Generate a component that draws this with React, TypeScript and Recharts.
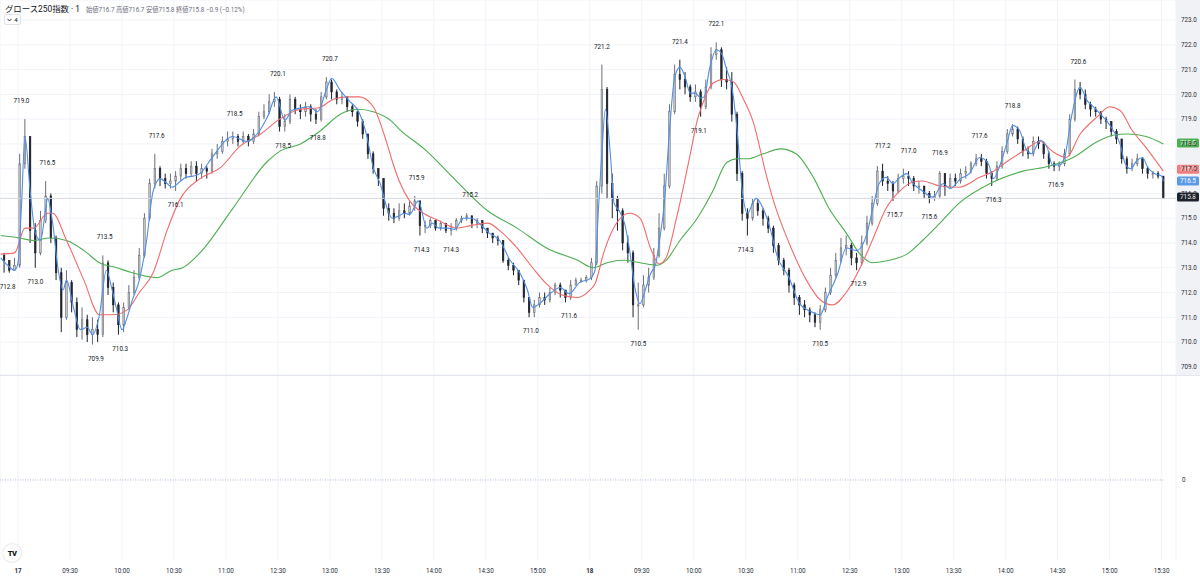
import React from "react";
import {
  ComposedChart,
  Bar,
  Line,
  Scatter,
  XAxis,
  YAxis,
  CartesianGrid,
  ReferenceLine,
} from "recharts";

// time is counted in trading minutes from 17th 09:00 (lunch break removed)
const preStart = -9;
const day1Start = 0;
const day2Start = 330;
const barStep = 3;
const firstOpen = 713.5;

const preClose = [713.3, 712.9, 713.1];
const preHigh = [713.6, 713.3, 713.4];
const preLow = [712.8, 712.8, 712.9];

const day1Close = [
  717.2, 718.3, 714.5, 713.6, 714.9, 715.9, 714.2, 712.8, 711.0, 712.4,
  711.6, 710.5, 710.9, 710.3, 710.5, 710.3, 713.2, 712.2, 711.5, 710.7,
  711.4, 712.0, 712.6, 713.5, 715.0, 716.4, 717.0, 716.6, 716.4, 716.5,
  716.7, 717.0, 716.8, 717.1, 716.8, 717.0, 716.9, 717.6, 717.7, 718.1,
  718.2, 718.3, 718.1, 718.3, 718.1, 718.4, 719.1, 719.3, 719.7, 719.8,
  718.7, 718.9, 719.8, 719.4, 719.3, 719.5, 719.2, 719.0, 719.9, 720.5,
  720.1, 719.8, 719.9, 719.5, 719.3, 718.9, 718.4, 717.6, 717.0, 716.6,
  715.4, 715.2, 715.0, 715.3, 715.2, 715.5, 715.7, 714.7, 714.7, 714.9,
  714.6, 714.8, 714.5, 714.6, 714.9, 715.0, 715.1, 714.8, 714.9, 714.6,
  714.4, 714.2, 714.1, 713.3, 713.1, 712.9, 712.5, 711.8, 711.2, 711.5,
  711.8, 711.7, 712.0, 712.3, 712.1, 711.8, 712.3, 712.5, 712.5, 712.6,
];
const day1High = [
  717.6, 719.0, 718.3, 714.8, 715.3, 716.5, 716.0, 714.3, 713.0, 712.9,
  712.5, 711.8, 711.4, 711.1, 711.0, 710.9, 713.5, 713.3, 712.4, 711.6,
  711.6, 712.3, 712.9, 713.8, 715.2, 716.6, 717.6, 717.1, 716.8, 716.8,
  716.9, 717.2, 717.2, 717.3, 717.3, 717.2, 717.1, 717.8, 718.0, 718.3,
  718.5, 718.5, 718.4, 718.5, 718.4, 718.6, 719.3, 719.6, 720.0, 720.1,
  719.9, 719.2, 720.0, 719.9, 719.6, 719.7, 719.6, 719.4, 720.1, 720.7,
  720.6, 720.2, 720.1, 719.9, 719.6, 719.3, 719.0, 718.4, 717.7, 717.0,
  716.6, 715.6, 715.4, 715.6, 715.6, 715.7, 715.9, 715.7, 714.9, 715.0,
  714.9, 714.9, 714.8, 714.8, 715.0, 715.1, 715.2, 715.1, 715.0, 714.9,
  714.6, 714.4, 714.3, 714.1, 713.4, 713.2, 712.9, 712.5, 711.8, 711.7,
  712.0, 712.0, 712.2, 712.4, 712.4, 712.1, 712.5, 712.6, 712.6, 712.7,
];
const day1Low = [
  713.0, 717.0, 714.0, 713.0, 713.5, 714.8, 714.0, 712.5, 710.4, 710.9,
  711.2, 710.2, 710.1, 710.0, 709.9, 710.0, 710.2, 711.9, 711.2, 710.3,
  710.4, 711.3, 711.9, 712.5, 713.4, 714.9, 716.2, 716.3, 716.2, 716.2,
  716.1, 716.5, 716.6, 716.7, 716.5, 716.6, 716.6, 716.8, 717.4, 717.6,
  717.9, 718.0, 717.9, 718.0, 717.9, 718.0, 718.3, 719.0, 719.2, 719.5,
  718.5, 718.5, 718.8, 719.2, 719.0, 719.1, 718.9, 718.8, 718.9, 719.8,
  719.8, 719.6, 719.6, 719.3, 719.1, 718.7, 718.2, 717.4, 716.8, 716.3,
  715.1, 714.9, 714.8, 714.9, 715.0, 715.1, 715.3, 714.3, 714.4, 714.6,
  714.5, 714.5, 714.4, 714.3, 714.5, 714.8, 714.9, 714.6, 714.6, 714.4,
  714.2, 714.0, 713.9, 713.2, 712.9, 712.7, 712.3, 711.6, 711.0, 711.0,
  711.4, 711.5, 711.6, 711.9, 711.8, 711.6, 711.7, 712.3, 712.4, 712.4,
];

const day2Close = [
  713.2, 716.3, 720.2, 716.4, 715.8, 715.3, 714.0, 713.6, 711.5, 711.5,
  712.3, 712.6, 713.5, 714.6, 716.3, 719.3, 720.8, 720.6, 720.3, 719.9,
  720.1, 719.5, 720.3, 721.6, 721.8, 720.6, 720.5, 719.2, 716.8, 715.2,
  715.0, 715.6, 715.3, 715.0, 714.6, 713.9, 713.3, 712.9, 712.3, 711.8,
  711.5, 711.3, 711.1, 710.8, 711.3, 712.0, 712.7, 713.3, 713.8, 713.9,
  713.4, 713.2, 714.0, 714.8, 715.6, 716.9, 716.5, 716.4, 716.1, 716.6,
  716.7, 716.6, 716.3, 716.3, 716.0, 715.8, 715.9, 716.8, 716.3, 716.6,
  716.5, 716.8, 716.9, 717.2, 717.4, 717.3, 716.8, 716.6, 717.1, 717.7,
  718.4, 718.6, 718.2, 717.7, 717.6, 718.1, 718.0, 717.6, 717.2, 717.1,
  717.2, 717.6, 719.0, 720.2, 720.0, 719.6, 719.4, 719.3, 719.0, 718.9,
  718.5, 718.2, 717.4, 717.0, 717.2, 717.4, 717.0, 716.8, 716.8, 716.7,
  715.8,
];
const day2High = [
  713.4, 716.5, 721.2, 720.3, 716.8, 715.9, 715.4, 714.3, 713.7, 712.4,
  712.7, 713.0, 713.8, 715.2, 716.8, 719.6, 721.2, 721.4, 720.9, 720.4,
  720.4, 720.2, 720.6, 721.9, 722.1, 721.9, 721.1, 720.9, 719.3, 716.9,
  715.4, 715.8, 715.8, 715.4, 715.1, 714.7, 714.0, 713.4, 713.0, 712.4,
  711.9, 711.7, 711.4, 711.2, 711.5, 712.2, 713.0, 713.6, 714.2, 714.3,
  714.0, 713.6, 714.3, 715.1, 715.9, 717.1, 717.2, 716.7, 716.5, 716.8,
  717.0, 716.9, 716.7, 716.5, 716.3, 716.1, 716.1, 716.9, 716.8, 716.8,
  716.8, 717.0, 717.1, 717.3, 717.6, 717.6, 717.4, 716.9, 717.3, 717.9,
  718.6, 718.8, 718.7, 718.3, 717.9, 718.3, 718.3, 718.1, 717.7, 717.3,
  717.3, 717.8, 719.2, 720.6, 720.5, 720.2, 719.7, 719.5, 719.3, 719.1,
  718.9, 718.6, 718.2, 717.5, 717.4, 717.6, 717.4, 717.1, 716.9, 716.9,
  716.7,
];
const day2Low = [
  712.5, 713.1, 716.0, 715.8, 715.0, 714.5, 713.7, 713.2, 711.0, 710.5,
  711.4, 712.0, 712.5, 713.4, 714.5, 716.2, 719.2, 720.2, 720.0, 719.7,
  719.7, 719.1, 719.4, 720.2, 721.4, 720.3, 720.2, 718.9, 716.5, 714.9,
  714.3, 714.9, 715.1, 714.7, 714.4, 713.6, 713.1, 712.7, 712.0, 711.5,
  711.1, 711.0, 710.8, 710.6, 710.5, 711.2, 711.9, 712.6, 713.2, 713.5,
  713.1, 712.9, 713.1, 713.9, 714.7, 715.5, 716.3, 716.1, 715.7, 716.0,
  716.4, 716.3, 716.1, 716.0, 715.8, 715.6, 715.7, 715.8, 715.9, 716.2,
  716.3, 716.4, 716.6, 716.8, 717.1, 717.1, 716.6, 716.3, 716.5, 717.0,
  717.6, 718.3, 718.0, 717.5, 717.4, 717.5, 717.8, 717.4, 717.0, 716.9,
  716.9, 717.1, 717.5, 718.9, 719.8, 719.4, 719.1, 719.1, 718.8, 718.6,
  718.3, 718.0, 717.2, 716.8, 716.9, 717.1, 716.8, 716.6, 716.6, 716.6,
  715.8,
];

// moving averages (time, value)
const blueT = [
  -10, -6, -2, 0, 2, 4, 7, 10, 13, 16, 17, 20, 23, 26, 28, 32, 36, 40, 43, 47,
  51, 54, 57, 60, 63, 66, 70, 74, 78, 82, 86, 89, 93, 97, 101, 105, 112, 124, 132, 138,
  144, 149, 154, 158, 163, 168, 173, 178, 181, 186, 191, 197, 201, 205, 209, 213, 216, 220, 223, 226,
  231, 236, 239, 243, 248, 252, 257, 262, 266, 272, 278, 284, 290, 294, 297, 301, 307, 313, 318, 324,
  330, 333, 335, 337, 339, 342, 344, 347, 350, 353, 356, 359, 362, 365, 368, 370, 373, 376, 379, 382,
  385, 388, 391, 394, 396, 399, 403, 406, 409, 412, 415, 418, 421, 424, 426, 430, 434, 438, 445, 451,
  457, 463, 467, 473, 478, 484, 490, 493, 497, 501, 505, 509, 513, 516, 522, 528, 534, 538, 544, 549,
  555, 560, 563, 567, 571, 574, 578, 582, 585, 590, 594, 597, 601, 604, 608, 613, 617, 620, 624, 628,
  632, 636, 639, 642, 646, 649, 652, 656, 660, 661,
];
const blueV = [
  713.4, 713.1, 712.9, 713.2, 715.5, 718.3, 716.1, 714.4, 714.1, 715.4, 715.8, 714.8, 713.0, 712.1, 712.5, 711.4, 710.5, 710.6, 710.3, 711.1,
  712.9, 712.2, 711.3, 710.5, 711.0, 711.7, 712.5, 714.0, 716.1, 716.6, 716.4, 716.25, 716.45, 716.65, 716.7, 716.8, 717.45, 718.3, 718.1, 718.4,
  719.1, 719.9, 718.95, 719.35, 719.45, 719.5, 719.3, 720.2, 720.65, 720.15, 719.75, 719.25, 718.4, 717.05, 716.4, 715.4, 715.0, 715.1, 715.2, 715.15,
  715.7, 714.6, 714.8, 714.6, 714.6, 714.55, 715.0, 715.0, 714.8, 714.4, 714.1, 713.3, 712.75, 712.1, 711.4, 711.55, 711.95, 712.2, 711.95, 712.4,
  712.55, 712.9, 715.4, 717.7, 719.4, 717.45, 715.6, 715.3, 714.8, 713.7, 712.2, 711.55, 712.1, 712.75, 713.15, 714.0, 715.6, 718.55, 720.7, 721.1,
  720.7, 720.05, 720.05, 719.85, 719.9, 721.0, 721.8, 721.65, 721.0, 720.3, 718.55, 716.1, 715.2, 715.6, 715.8, 715.4, 714.6, 713.5, 712.6, 711.55,
  711.25, 711.1, 711.8, 712.75, 713.8, 713.7, 714.4, 715.3, 716.4, 716.65, 716.4, 716.65, 716.8, 716.45, 716.1, 715.85, 716.4, 716.2, 716.6, 716.8,
  717.45, 717.2, 716.6, 717.2, 718.1, 718.75, 718.55, 717.75, 717.6, 718.15, 717.85, 717.15, 717.15, 717.45, 719.1, 720.3, 719.75, 719.55, 719.25, 718.95,
  718.55, 718.0, 717.2, 717.0, 717.35, 717.45, 717.05, 716.8, 716.7, 716.5,
];

const redT = [
  -10, -2, 4, 9, 17, 20, 28, 38, 47, 55, 63, 70, 78, 86, 93, 105, 117, 128, 140, 151,
  163, 173, 182, 190, 197, 205, 213, 216, 220, 226, 234, 243, 253, 261, 271, 278, 288, 297, 305, 314,
  323, 330, 333, 338, 343, 353, 359, 365, 370, 374, 380, 388, 392, 395, 401, 407, 413, 418, 424, 432,
  436, 445, 455, 463, 470, 478, 486, 493, 501, 509, 516, 522, 532, 543, 555, 563, 571, 580, 590, 597,
  605, 613, 623, 630, 636, 643, 651, 661,
];
const redV = [
  713.55, 713.6, 714.6, 714.6, 715.2, 715.2, 714.1, 712.5, 711.1, 711.1, 711.3, 712.0, 712.8, 714.5, 715.7, 716.6, 717.05, 717.9, 718.4, 719.0,
  719.4, 719.45, 719.8, 719.9, 719.9, 719.5, 718.0, 717.3, 716.5, 715.7, 715.2, 714.9, 714.6, 714.7, 714.8, 714.5, 713.8, 713.0, 712.35, 711.9,
  711.8, 712.1, 712.35, 713.6, 714.5, 715.2, 715.0, 713.8, 713.15, 713.4, 715.0, 717.6, 718.95, 719.6, 720.45, 720.6, 720.5, 719.9, 718.95, 716.7,
  715.7, 714.0, 712.5, 711.7, 711.5, 712.0, 713.0, 714.1, 715.4, 716.1, 716.45, 716.5, 716.3, 716.25, 716.65, 716.9, 717.3, 717.7, 718.1, 717.7,
  717.45, 718.4, 719.1, 719.5, 719.35, 718.55, 717.85, 716.9,
];

const greenT = [
  -10, 1, 9, 18, 28, 38, 47, 57, 66, 80, 89, 95, 105, 124, 144, 151, 163, 174, 186, 196,
  205, 215, 220, 236, 253, 271, 288, 305, 323, 332, 340, 349, 359, 369, 374, 382, 392, 401, 409, 415,
  421, 430, 440, 449, 459, 468, 478, 486, 493, 503, 513, 522, 532, 543, 561, 580, 595, 609, 623, 632,
  640, 651, 661,
];
const greenV = [
  714.3, 714.2, 714.1, 714.2, 714.1, 713.7, 713.2, 713.0, 712.8, 712.6, 712.9, 713.0, 713.6, 715.4, 717.3, 717.7, 718.0, 718.5, 719.2, 719.4,
  719.3, 718.95, 718.6, 717.7, 716.5, 715.3, 714.6, 713.8, 713.3, 713.0, 713.2, 713.3, 713.2, 713.1, 713.3, 714.1, 715.0, 716.1, 717.25, 717.4,
  717.4, 717.6, 717.8, 717.6, 716.65, 715.4, 714.4, 713.55, 713.2, 713.3, 713.55, 714.1, 714.8, 715.6, 716.4, 716.9, 717.1, 717.45, 718.1, 718.35,
  718.4, 718.3, 718.0,
];

// swing high / low annotations
const pivotT = [
  -6, 2, 10, 17, 45, 50, 59, 80, 91, 125, 150, 153, 173, 180, 230, 233, 250, 261, 296, 318,
  337, 358, 382, 393, 403, 420, 463, 485, 499, 506, 514, 526, 532, 555, 563, 574, 599, 612,
];
const pivotV = [
  712.8, 719.0, 713.0, 716.5, 709.9, 713.5, 710.3, 717.6, 716.1, 718.5, 720.1, 718.5, 718.8, 720.7, 715.9, 714.3, 714.3, 715.2, 711.0, 711.6,
  721.2, 710.5, 721.4, 719.1, 722.1, 714.3, 710.5, 712.9, 717.2, 715.7, 717.0, 715.6, 716.9, 717.6, 716.3, 718.8, 716.9, 720.6,
];
const pivotIsHigh = [
  0, 1, 0, 1, 0, 1, 0, 1, 0, 1, 1, 0, 0, 1, 1, 0, 0, 1, 0, 0,
  1, 0, 1, 0, 1, 0, 0, 0, 1, 0, 1, 0, 1, 1, 0, 1, 0, 1,
];

const tickTimes = [0, 30, 60, 90, 120, 150, 180, 210, 240, 270, 300, 330, 360, 390, 420, 450, 480, 510, 540, 570, 600, 630, 660];
const tickLabels = [
  "17", "09:30", "10:00", "10:30", "11:00", "12:30", "13:00", "13:30", "14:00", "14:30", "15:00",
  "18", "09:30", "10:00", "10:30", "11:00", "12:30", "13:00", "13:30", "14:00", "14:30", "15:00", "15:30",
];
const priceTicks = [709, 710, 711, 712, 713, 714, 715, 716, 717, 718, 719, 720, 721, 722, 723];

const lastClose = 715.8;
const lastBlue = 716.5;
const lastRed = 716.9;
const lastGreen = 718.0;

const FONT = "Roboto, 'Noto Sans CJK JP', sans-serif";
const xDomain = [-10.4, 668.3];
const zeroLine = [{ t: -10.4, v: 0 }, { t: 661, v: 0 }];

function buildCandles() {
  const sets: [number, number[], number[], number[]][] = [
    [preStart, preClose, preHigh, preLow],
    [day1Start, day1Close, day1High, day1Low],
    [day2Start, day2Close, day2High, day2Low],
  ];
  const out: any[] = [];
  let prev = firstOpen;
  sets.forEach(([start, c, h, l]) => {
    c.forEach((close, i) => {
      out.push({ t: start + i * barStep + 1, open: prev, close, high: h[i], low: l[i], range: [l[i], h[i]] });
      prev = close;
    });
  });
  return out;
}

const candles = buildCandles();
const blueData = blueT.map((t, i) => ({ t, v: blueV[i] }));
const redData = redT.map((t, i) => ({ t, v: redV[i] }));
const greenData = greenT.map((t, i) => ({ t, v: greenV[i] }));
const pivots = pivotT.map((t, i) => ({ t, v: pivotV[i], hi: pivotIsHigh[i] === 1 }));

const Candle = (props: any) => {
  const { x, y, width, height, payload } = props;
  if (x == null || y == null) return null;
  const { open, close, high, low } = payload;
  const top = Math.min(y, y + height);
  const bot = Math.max(y, y + height);
  const span = high - low;
  const py = (v: number) => (span === 0 ? top : top + ((high - v) / span) * (bot - top));
  const up = close >= open;
  const cx = x + width / 2;
  const bTop = py(Math.max(open, close));
  const bBot = py(Math.min(open, close));
  const line = up ? "#6b6e78" : "#1e222d";
  return (
    <g>
      <line x1={cx} x2={cx} y1={top} y2={Math.max(bot, top + 1)} stroke={line} strokeWidth={1} />
      <rect
        x={x}
        y={bTop}
        width={width}
        height={Math.max(1, bBot - bTop)}
        fill={up ? "#c9cbd1" : "#23262f"}
        stroke={line}
        strokeWidth={0.6}
      />
    </g>
  );
};

const PivotLabel = (props: any) => {
  const { cx, cy, payload } = props;
  if (cx == null || cy == null) return null;
  return (
    <text
      x={cx}
      y={payload.hi ? cy - 18 : cy + 14}
      textAnchor="middle"
      dominantBaseline="central"
      fontSize={6.3}
      fontFamily={FONT}
      fill="#131722"
    >
      {payload.v.toFixed(1)}
    </text>
  );
};

const priceTag = (bg: string, value: number, shift: number) => (p: any) => {
  const vb = p.viewBox;
  if (!vb) return null;
  const left = vb.x + vb.width + 1;
  const cy = vb.y + shift;
  return (
    <g>
      <rect x={left} y={cy - 4.5} width={22} height={9} rx={1.5} fill={bg} />
      <text
        x={left + 11}
        y={cy + 0.3}
        textAnchor="middle"
        dominantBaseline="central"
        fontSize={6.3}
        fontFamily={FONT}
        fill="#ffffff"
      >
        {value.toFixed(1)}
      </text>
    </g>
  );
};

const TimeTick = (props: any) => {
  const { x, y, payload } = props;
  const label = tickLabels[tickTimes.indexOf(payload.value)];
  if (!label) return null;
  const day = label.length <= 2;
  return (
    <text
      x={x}
      y={y + 13}
      textAnchor="middle"
      fontSize={6.3}
      fontFamily={FONT}
      fontWeight={day ? 700 : 400}
      fill="#2a2e39"
    >
      {label}
    </text>
  );
};

export default function App() {
  return (
    <div style={{ width: 1200, height: 578, position: "relative", background: "#fff", fontFamily: FONT }}>
      <style>{"body{margin:0}"}</style>
      <div style={{ position: "absolute", left: 1176, top: 0, width: 24, height: 375, background: "#f0f2f6" }} />
      <div style={{ position: "relative" }}>
        <ComposedChart width={1200} height={375} data={candles} margin={{ top: 0, right: 0, bottom: 0, left: 0 }}>
          <CartesianGrid stroke="#f0f3fa" />
          <XAxis
            dataKey="t"
            type="number"
            domain={xDomain}
            ticks={tickTimes}
            allowDataOverflow
            hide
          />
          <YAxis
            orientation="right"
            width={24}
            type="number"
            domain={[708.67, 723.81]}
            ticks={priceTicks}
            allowDataOverflow
            tickFormatter={(v: number) => v.toFixed(1)}
            tick={{ fontSize: 6.3, fill: "#2a2e39", fontFamily: FONT }}
            tickLine={false}
            axisLine={false}
            tickSize={0}
            tickMargin={5}
          />
          <ReferenceLine y={lastClose} stroke="#d5d8de" strokeWidth={1} />
          <Bar dataKey="range" barSize={3} shape={<Candle />} isAnimationActive={false} />
          <Line data={greenData} dataKey="v" type="monotone" stroke="#4caf50" strokeWidth={1.1} dot={false} activeDot={false} isAnimationActive={false} />
          <Line data={redData} dataKey="v" type="monotone" stroke="#f26b6b" strokeWidth={1.1} dot={false} activeDot={false} isAnimationActive={false} />
          <Line data={blueData} dataKey="v" type="monotone" stroke="#4f8fe6" strokeWidth={1.1} dot={false} activeDot={false} isAnimationActive={false} />
          <Scatter data={pivots} dataKey="v" shape={<PivotLabel />} isAnimationActive={false} />
          <ReferenceLine y={lastGreen} stroke="none" label={priceTag("#4caf50", lastGreen, -1)} />
          <ReferenceLine y={lastRed} stroke="none" label={priceTag("#f07f82", lastRed, -2)} />
          <ReferenceLine y={lastBlue} stroke="none" label={priceTag("#5b9be6", lastBlue, 0)} />
          <ReferenceLine y={lastClose} stroke="none" label={priceTag("#1e222d", lastClose, -1.5)} />
        </ComposedChart>
      </div>
      <div style={{ borderTop: "1px solid #e3e6ec" }}>
        <ComposedChart width={1200} height={202} data={zeroLine} margin={{ top: 0, right: 0, bottom: 0, left: 0 }}>
          <CartesianGrid stroke="#f0f3fa" horizontal={false} />
          <XAxis
            dataKey="t"
            type="number"
            domain={xDomain}
            ticks={tickTimes}
            allowDataOverflow
            height={18}
            tick={<TimeTick />}
            tickLine={false}
            axisLine={false}
            tickSize={0}
            tickMargin={0}
          />
          <YAxis
            orientation="right"
            width={24}
            type="number"
            domain={[-0.77, 1.0]}
            ticks={[0]}
            allowDataOverflow
            tick={{ fontSize: 6.3, fill: "#2a2e39", fontFamily: FONT }}
            tickLine={false}
            axisLine={false}
            tickSize={0}
            tickMargin={6}
          />
          <Line dataKey="v" stroke="#a9bbdb" strokeDasharray="1 1.5" strokeWidth={1} dot={false} activeDot={false} isAnimationActive={false} />
        </ComposedChart>
      </div>

      <div style={{ position: "absolute", left: 5, top: 2, display: "flex", alignItems: "baseline", whiteSpace: "nowrap" }}>
        <span style={{ fontSize: 8.4, color: "#131722" }}>グロース250指数 · 1</span>
        <span style={{ fontSize: 6.3, color: "#6a6d78", marginLeft: 6 }}>
          始値716.7 高値716.7 安値715.8 終値715.8 −0.9 (−0.12%)
        </span>
      </div>
      <div
        style={{
          position: "absolute",
          left: 4,
          top: 14,
          width: 15,
          height: 9,
          border: "1px solid #e0e3eb",
          borderRadius: 2,
          fontSize: 6,
          color: "#131722",
          display: "flex",
          alignItems: "center",
          justifyContent: "center",
          gap: 2,
        }}
      >
        <svg width={5} height={4}>
          <polyline points="0.5,0.8 2.5,3 4.5,0.8" fill="none" stroke="#131722" strokeWidth={0.8} />
        </svg>
        <span>4</span>
      </div>
      <div
        style={{
          position: "absolute",
          left: 3,
          top: 544,
          width: 18,
          height: 18,
          borderRadius: 9,
          background: "#fff",
          boxShadow: "0 0 2px rgba(0,0,0,0.25)",
          display: "flex",
          alignItems: "center",
          justifyContent: "center",
          fontSize: 7.5,
          fontWeight: 900,
          color: "#131722",
          letterSpacing: -0.5,
        }}
      >
        TV
      </div>
    </div>
  );
}
